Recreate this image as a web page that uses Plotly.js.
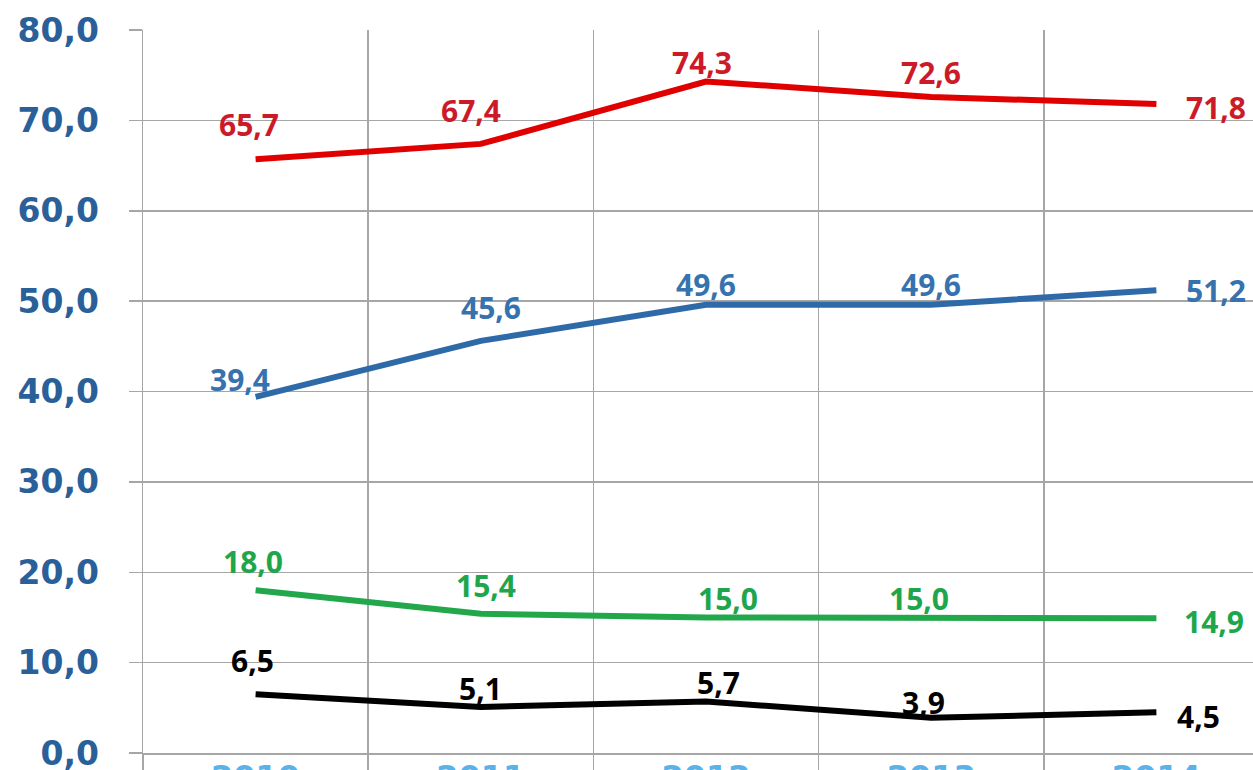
<!DOCTYPE html>
<html>
<head>
<meta charset="utf-8">
<script src="https://cdn.plot.ly/plotly-3.0.1.min.js"></script>
<style>
html,body{margin:0;padding:0;overflow:hidden;background:#fff;}
#chart{width:1270px;height:800px;}
</style>
</head>
<body>
<div id="chart"></div>
<script>
// Data
const years = ['2010', '2011', '2012', '2013', '2014'];
const redValues = [65.7, 67.4, 74.3, 72.6, 71.8];
const blueValues = [39.4, 45.6, 49.6, 49.6, 51.2];
const greenValues = [18.0, 15.4, 15.0, 15.0, 14.9];
const blackValues = [6.5, 5.1, 5.7, 3.9, 4.5];

// Styles (label offsets in px)
const series = [
  {y: redValues, line: '#e00000', text: '#cc1a28',
   dx: [-7, -10, -4, 0, 60], dy: [35, 33, 19, 24, -3]},
  {y: blueValues, line: '#2e6aa8', text: '#3572ae',
   dx: [-16, 10, 0, 0, 60], dy: [17, 33, 20, 20, 0]},
  {y: greenValues, line: '#22a84a', text: '#1ea64c',
   dx: [-3, 5, 22, -12, 58], dy: [29, 28, 19, 19, -3]},
  {y: blackValues, line: '#000000', text: '#000000',
   dx: [-3, 0, 12, -8, 42], dy: [34, 18, 19, 15, -4]}
];

const fmt = v => v.toFixed(1).replace('.', ',');

const traces = series.map(s => ({
  type: 'scatter', mode: 'lines', x: years, y: s.y,
  line: {color: s.line, width: 6}, hoverinfo: 'skip'
}));

const annotations = [];
series.forEach(s => {
  s.y.forEach((v, i) => {
    annotations.push({
      x: i, y: v, xref: 'x', yref: 'y', text: fmt(v), showarrow: false,
      xshift: s.dx[i], yshift: s.dy[i],
      font: {family: 'Open Sans, sans-serif', size: 30, color: s.text, weight: 700}
    });
  });
});

const layout = {
  width: 1270, height: 800,
  margin: {l: 143, r: 1, t: 30, b: 47},
  paper_bgcolor: '#ffffff', plot_bgcolor: '#ffffff',
  showlegend: false,
  separators: ',.',
  xaxis: {
    type: 'category', tickson: 'boundaries',
    range: [-0.5, 4.5], autorange: false,
    categoryorder: 'array', categoryarray: years,
    showgrid: true, gridcolor: '#a6a6a6', gridwidth: 1.5,
    ticks: 'outside', ticklen: 20, tickcolor: '#a6a6a6', tickwidth: 1.5,
    ticklabelstandoff: -5,
    zeroline: false, showline: true, linecolor: '#a6a6a6', linewidth: 1.5,
    tickfont: {family: 'DejaVu Sans, sans-serif', size: 32, color: '#5ab2e8', weight: 700},
    fixedrange: true
  },
  yaxis: {
    range: [0, 80], autorange: false, dtick: 10, tick0: 0, tickformat: '.1f',
    showgrid: true, gridcolor: '#a6a6a6', gridwidth: 1.5,
    ticks: 'outside', ticklen: 13, tickcolor: '#a6a6a6', tickwidth: 1.5,
    ticklabelstandoff: 23,
    zeroline: false, showline: true, linecolor: '#a6a6a6', linewidth: 1.5,
    tickfont: {family: 'DejaVu Sans, sans-serif', size: 33, color: '#2a6099', weight: 700},
    fixedrange: true
  },
  annotations: annotations
};

Plotly.newPlot('chart', traces, layout, {staticPlot: true, displayModeBar: false});
</script>
</body>
</html>
